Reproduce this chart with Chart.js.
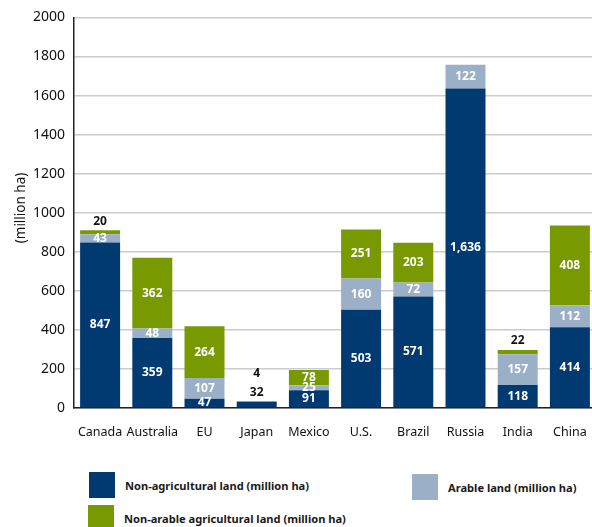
<!DOCTYPE html>
<html>
<head>
<meta charset="utf-8">
<script src="https://cdn.jsdelivr.net/npm/chart.js@4"></script>
<style>
  body { margin: 0; width: 592px; height: 527px; overflow: hidden; background: #fff; font-family: "Noto Sans", sans-serif; }
  #wrap { position: relative; width: 592px; height: 527px; }
  #chartBox { position: absolute; left: 0; top: 0; }
  .key { position: absolute; display: flex; align-items: center; font-weight: bold; font-size: 11.1px; color: #1a1a1a; white-space: nowrap; }
  .key span.sw { display: inline-block; width: 26px; height: 26px; margin-right: 10px; }
</style>
</head>
<body>
<div id="wrap">
  <div id="chartBox"><canvas id="landChart" width="600" height="450"></canvas></div>
  <div class="key" style="left:89px; top:472px;"><span class="sw" style="background:#003a70"></span>Non-agricultural land (million ha)</div>
  <div class="key" style="left:412px; top:474px;"><span class="sw" style="background:#9bb0c7"></span>Arable land (million ha)</div>
  <div class="key" style="left:88px; top:505px;"><span class="sw" style="background:#789a00"></span>Non-arable agricultural land (million ha)</div>
</div>
<script>
const countries = ["Canada", "Australia", "EU", "Japan", "Mexico", "U.S.", "Brazil", "Russia", "India", "China"];
const nonAgricultural = [847, 359, 47, 32, 91, 503, 571, 1636, 118, 414];
const arable = [43, 48, 107, 4, 25, 160, 72, 122, 157, 112];
const nonArableAgricultural = [20, 362, 264, 0, 78, 251, 203, 0, 22, 408];
const yTicks = [0, 200, 400, 600, 800, 1000, 1200, 1400, 1600, 1800, 2000];

const colors = ["#003a70", "#9bb0c7", "#789a00"];

// value labels: white inside the segment, black above the bar when the segment is too thin
const segmentLabels = {
  id: "segmentLabels",
  afterDatasetsDraw(chart) {
    const ctx = chart.ctx;
    const sets = chart.data.datasets;
    ctx.save();
    ctx.font = "bold 12px 'Noto Sans'";
    ctx.textAlign = "center";
    ctx.textBaseline = "middle";
    countries.forEach((c, i) => {
      const total = sets.reduce((s, d) => s + d.data[i], 0);
      let lastY = Infinity;
      sets.forEach((ds, k) => {
        const v = ds.data[i];
        if (!v) return;
        const bar = chart.getDatasetMeta(k).data[i];
        const isTop = sets.slice(k + 1).every(d => !d.data[i]);
        const outside = v <= 32 && (isTop || total < 50);
        const txt = v.toLocaleString("en-US");
        if (outside) {
          const y = Math.min(bar.y - 9, lastY - 19);
          lastY = y;
          ctx.fillStyle = "#111";
          ctx.fillText(txt, bar.x, y);
        } else {
          ctx.fillStyle = "#fff";
          ctx.fillText(txt, bar.x, (bar.y + bar.base) / 2);
        }
      });
    });
    // axis title
    ctx.font = "13.5px 'Noto Sans'";
    ctx.fillStyle = "#111";
    ctx.translate(21, 208);
    ctx.rotate(-Math.PI / 2);
    ctx.fillText("(million ha)", 0, 0);
    ctx.restore();
  }
};

new Chart(document.getElementById("landChart"), {
  type: "bar",
  data: {
    labels: countries,
    datasets: [
      { label: "Non-agricultural land (million ha)", data: nonAgricultural, backgroundColor: colors[0] },
      { label: "Arable land (million ha)", data: arable, backgroundColor: colors[1] },
      { label: "Non-arable agricultural land (million ha)", data: nonArableAgricultural, backgroundColor: colors[2] },
    ],
  },
  options: {
    responsive: false,
    animation: false,
    layout: { padding: { top: 16, right: 4, bottom: 0, left: 0 } },
    datasets: { bar: { categoryPercentage: 1, barPercentage: 0.766 } },
    plugins: { legend: { display: false }, tooltip: { enabled: false } },
    scales: {
      x: {
        stacked: true,
        afterFit: s => { s.height = 42; s.paddingLeft = 0; s.paddingRight = 0; },
        grid: { display: false, drawTicks: false },
        border: { display: true, color: "#222", width: 1.5 },
        ticks: { padding: 17, maxRotation: 0, minRotation: 0, autoSkip: false, color: "#111", font: { family: "Noto Sans", size: 12.5 } },
      },
      y: {
        stacked: true,
        min: 0,
        max: 2000,
        afterFit: s => { s.width = 74; },
        afterBuildTicks: s => { s.ticks = yTicks.map(v => ({ value: v })); },
        grid: { color: "#cbcbcb", lineWidth: 1.5, drawTicks: false },
        border: { display: true, color: "#222", width: 1.5 },
        ticks: { padding: 9, color: "#111", font: { family: "Noto Sans", size: 14 }, callback: v => String(v) },
      },
    },
  },
  plugins: [segmentLabels],
});
</script>
</body>
</html>
